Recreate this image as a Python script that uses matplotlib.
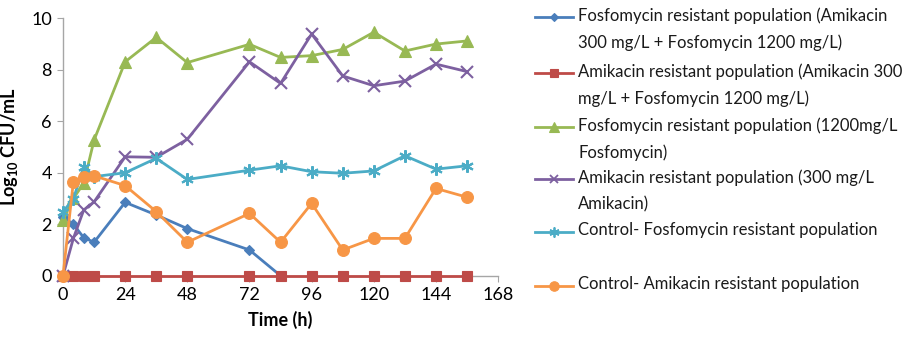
import numpy as np
import matplotlib
matplotlib.use("Agg")
import matplotlib.pyplot as plt
from matplotlib.lines import Line2D

plt.rcParams['font.family'] = ['Lato', 'DejaVu Sans']
plt.rcParams['mathtext.fontset'] = 'custom'
plt.rcParams['mathtext.rm'] = 'Lato'
plt.rcParams['mathtext.bf'] = 'Lato:bold'

# time points (h)
time_h = [0, 4, 8, 12, 24, 36, 48, 72, 84, 96, 108, 120, 132, 144, 156]
time_blue = [0, 4, 8, 12, 24, 36, 48, 72, 84]

fos_res_combo = [2.29, 2.0, 1.48, 1.3, 2.85, 2.36, 1.83, 1.0, 0.0]
ami_res_combo = [0] * 15
fos_res_fos = [2.16, 3.0, 3.59, 5.27, 8.31, 9.26, 8.28, 8.99, 8.48, 8.55, 8.79, 9.46, 8.73, 9.0, 9.12]
ami_res_ami = [0.0, 1.45, 2.55, 2.87, 4.62, 4.6, 5.3, 8.31, 7.47, 9.39, 7.76, 7.38, 7.56, 8.22, 7.93]
ctrl_fos = [2.49, 2.98, 4.23, 3.85, 4.0, 4.56, 3.74, 4.1, 4.27, 4.04, 3.98, 4.07, 4.66, 4.14, 4.27]
ctrl_ami = [0.0, 3.65, 3.85, 3.88, 3.5, 2.49, 1.3, 2.42, 1.3, 2.81, 1.0, 1.45, 1.45, 3.39, 3.05]

labels = [
    "Fosfomycin resistant population (Amikacin\n300 mg/L + Fosfomycin 1200 mg/L)",
    "Amikacin resistant population (Amikacin 300\nmg/L + Fosfomycin 1200 mg/L)",
    "Fosfomycin resistant population (1200mg/L\nFosfomycin)",
    "Amikacin resistant population (300 mg/L\nAmikacin)",
    "Control- Fosfomycin resistant population",
    "Control- Amikacin resistant population",
]

series = [
    (time_blue, fos_res_combo, '#4A7EBB', 'D', 5.5),
    (time_h, ami_res_combo, '#BE4B48', 's', 7),
    (time_h, fos_res_fos, '#98B954', '^', 8.5),
    (time_h, ami_res_ami, '#7D60A0', 'x', 8),
    (time_h, ctrl_fos, '#4BACC6', (6, 2, 0), 9),
    (time_h, ctrl_ami, '#F79646', 'o', 8.5),
]

fig = plt.figure(figsize=(9.09, 3.44), dpi=100)
ax = fig.add_axes([0.0693, 0.1985, 0.4787, 0.7483])

for x, y, c, m, ms in series:
    ax.plot(x, y, color=c, marker=m, markersize=ms, linewidth=2,
            markeredgewidth=1.5 if m in ('x', (6, 2, 0)) else 0.8,
            markeredgecolor=c, clip_on=False, zorder=3)

ax.set_xlim(0, 168)
ax.set_ylim(0, 10)
ax.set_xticks(range(0, 169, 24))
ax.set_yticks(range(0, 11, 2))
for side in ('top', 'right'):
    ax.spines[side].set_visible(False)
for side in ('left', 'bottom'):
    ax.spines[side].set_color('#A6A6A6')
    ax.spines[side].set_linewidth(1)
ax.tick_params(direction='out', length=4, color='#A6A6A6', labelsize=13, pad=4)
ax.set_xlabel("Time (h)", fontsize=13, fontweight='bold', labelpad=6)
ax.set_ylabel(r"Log$_{\mathbf{10}}$ CFU/mL", fontsize=13, fontweight='bold', labelpad=8)

# legend built by hand so the key sits on the first text line (Excel style)
key_y = [17, 73, 127, 179, 232, 286]
W, H = 909, 344
for (x, y, c, m, ms), lab, ky in zip(series, labels, key_y):
    yf = 1 - ky / H
    fig.add_artist(Line2D([535 / W, 573 / W], [yf, yf], color=c, linewidth=2,
                          transform=fig.transFigure))
    fig.add_artist(Line2D([554 / W], [yf], color=c, marker=m, markersize=ms * 0.8,
                          markeredgewidth=1.3 if m in ('x', (6, 2, 0)) else 0.8,
                          transform=fig.transFigure))
    fig.text(578 / W, 1 - (ky - 9.5) / H, lab, fontsize=12, va='top', ha='left',
             linespacing=1.75, color='#1a1a1a')

fig.savefig("out.png", dpi=100)
